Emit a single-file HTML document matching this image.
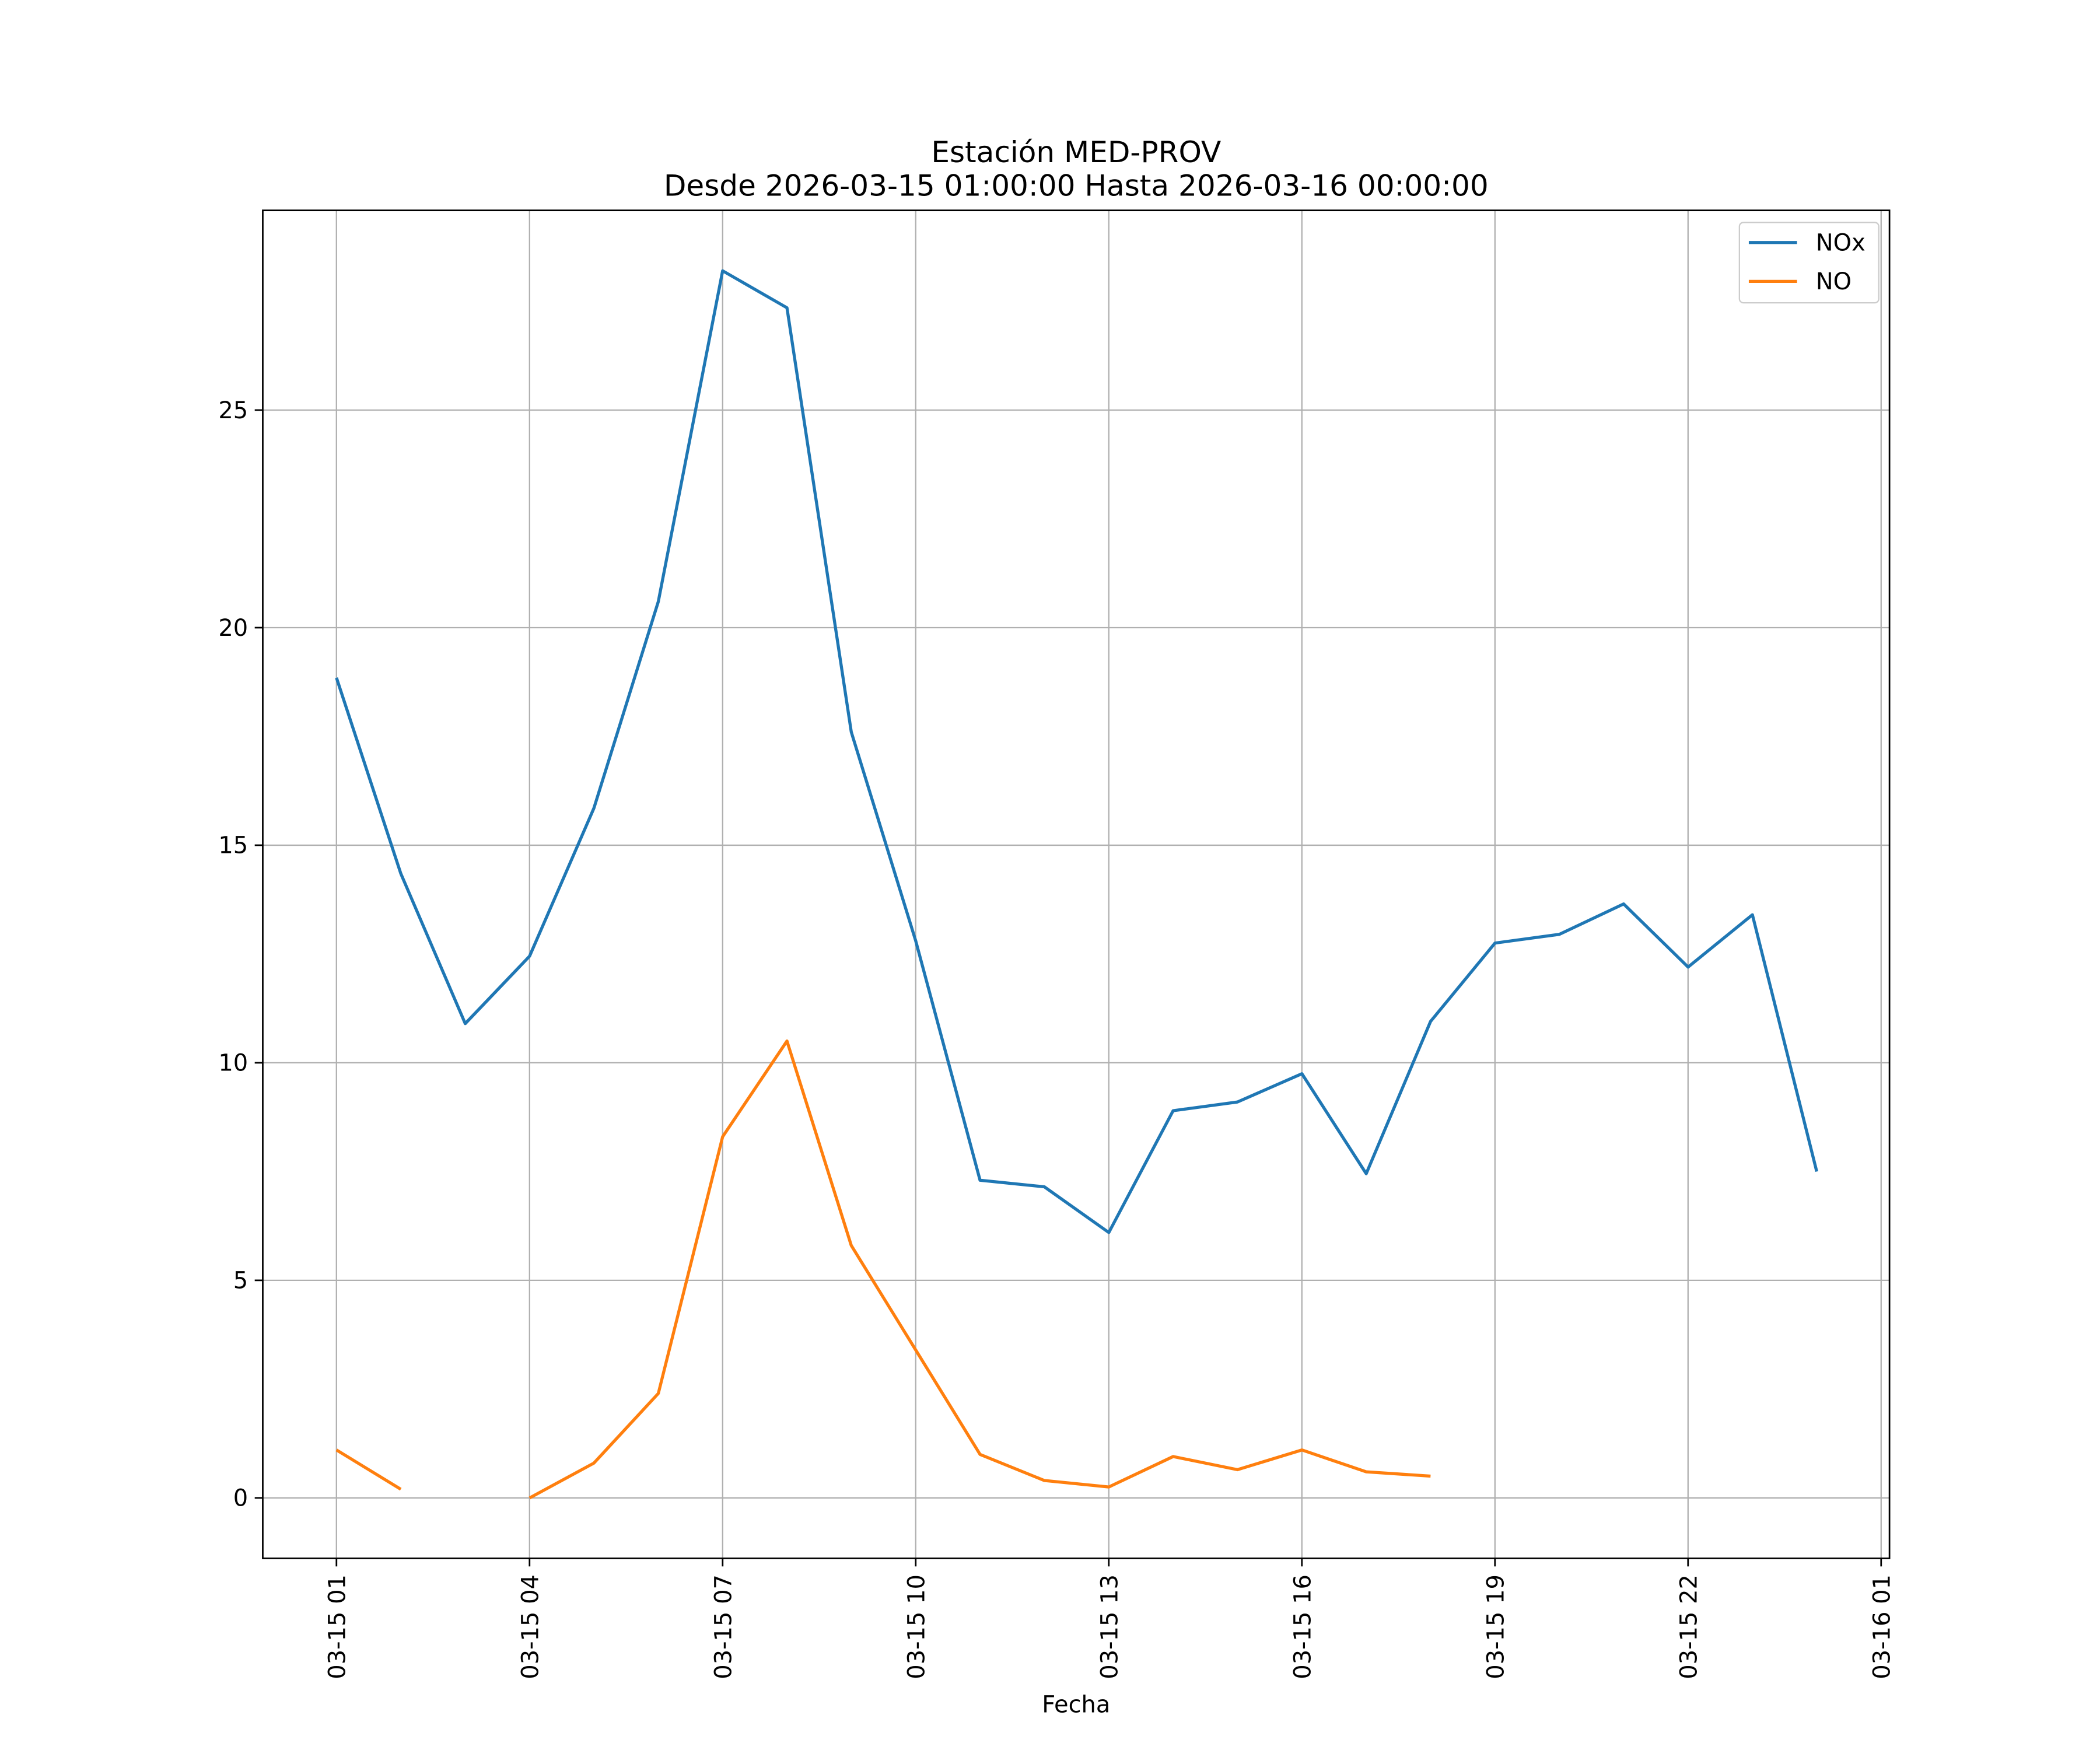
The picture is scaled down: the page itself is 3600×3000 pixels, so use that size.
<!DOCTYPE html>
<html><head><meta charset="utf-8"><style>
html,body{margin:0;padding:0;background:#fff}
svg{display:block}
text{font-family:"DejaVu Sans","Liberation Sans",sans-serif;fill:#000}
</style></head><body>
<svg id="chart" width="3600" height="3000" viewBox="0 0 1567 1306" xmlns="http://www.w3.org/2000/svg">
<rect width="1567" height="1306" fill="#fff"/>
<text x="803" y="121" font-size="21.8" text-anchor="middle">Estación MED-PROV</text>
<text x="803" y="146" font-size="21.8" text-anchor="middle">Desde 2026-03-15 01:00:00 Hasta 2026-03-16 00:00:00</text>
<g id="grid"></g>
<g id="series"></g>
<rect x="196" y="157" width="1214" height="1006" fill="none" stroke="#000" stroke-width="1.2"/>
<g id="ticks"></g>
<text x="803" y="1278" font-size="17.4" text-anchor="middle">Fecha</text>
<g>
<rect x="1298" y="166" width="104" height="60" rx="3" fill="#fff" stroke="#ccc" stroke-width="1"/>
<line x1="1305" y1="181" x2="1341" y2="181" stroke="#1f77b4" stroke-width="2.3"/>
<text x="1355" y="187" font-size="17.4">NOx</text>
<line x1="1305" y1="210" x2="1341" y2="210" stroke="#ff7f0e" stroke-width="2.3"/>
<text x="1355" y="216" font-size="17.4">NO</text>
</g>
</svg>
<script>
const hours = [1,2,3,4,5,6,7,8,9,10,11,12,13,14,15,16,17,18,19,20,21,22,23,24];
const noxValues = [18.85,14.35,10.9,12.45,15.85,20.6,28.2,27.35,17.6,12.8,7.3,7.15,6.1,8.9,9.1,9.75,7.45,10.95,12.75,12.95,13.65,12.2,13.4,7.5];
const noValues = [1.1,0.2,null,0.0,0.8,2.4,8.3,10.5,5.8,3.4,1.0,0.4,0.25,0.95,0.65,1.1,0.6,0.5,null,null,null,null,null,null];
const yTicks = [0,5,10,15,20,25];
const xTickHours = [1,4,7,10,13,16,19,22,25];
const xTickLabels = ["03-15 01","03-15 04","03-15 07","03-15 10","03-15 13","03-15 16","03-15 19","03-15 22","03-16 01"];

const NS="http://www.w3.org/2000/svg";
const X0=196,X1=1410,Y0=157,Y1=1163;
const xMin=-0.145, xMax=25.13, yMin=-1.39, yMax=29.59;
function xs(h){return X0+(h-xMin)/(xMax-xMin)*(X1-X0);}
function ys(v){return Y1-(v-yMin)/(yMax-yMin)*(Y1-Y0);}
function mk(tag,attrs,parent){const e=document.createElementNS(NS,tag);for(const k in attrs)e.setAttribute(k,attrs[k]);parent.appendChild(e);return e;}
const grid=document.getElementById('grid'),ticks=document.getElementById('ticks'),series=document.getElementById('series');
yTicks.forEach(v=>{
  const y=ys(v);
  const g=mk('line',{x1:X0,x2:X1,y1:y,y2:y,stroke:'#b0b0b0','stroke-width':1},grid);
  
  
  mk('line',{x1:X0-6,x2:X0,y1:y,y2:y,stroke:'#000','stroke-width':1.2},ticks);
  const t=mk('text',{x:X0-11,y:y+6,'font-size':17.4,'text-anchor':'end'},ticks);
  t.textContent=v;
  
  
});
xTickHours.forEach((h,i)=>{
  const x=xs(h);
  const g=mk('line',{x1:x,x2:x,y1:Y0,y2:Y1,stroke:'#b0b0b0','stroke-width':1},grid);
  
  
  mk('line',{x1:x,x2:x,y1:Y1,y2:Y1+6,stroke:'#000','stroke-width':1.2},ticks);
  const t=mk('text',{x:0,y:0,'font-size':17.4,'text-anchor':'end',transform:`translate(${x+6.5},${Y1+12}) rotate(-90)`},ticks);
  t.textContent=xTickLabels[i];
  
  
});
function drawSeries(vals,color,name){
  let segs=[],cur=[];
  vals.forEach((v,i)=>{if(v===null){if(cur.length)segs.push(cur);cur=[];}else cur.push(xs(hours[i]).toFixed(1)+','+ys(v).toFixed(1));});
  if(cur.length)segs.push(cur);
  segs.forEach(s=>{
    const p=mk('polyline',{points:s.join(' '),fill:'none',stroke:color,'stroke-width':2.3,'stroke-linejoin':'round'},series);
    
    
  });
}
drawSeries(noxValues,'#1f77b4','nox-line');
drawSeries(noValues,'#ff7f0e','no-line');
</script>
</body></html>
